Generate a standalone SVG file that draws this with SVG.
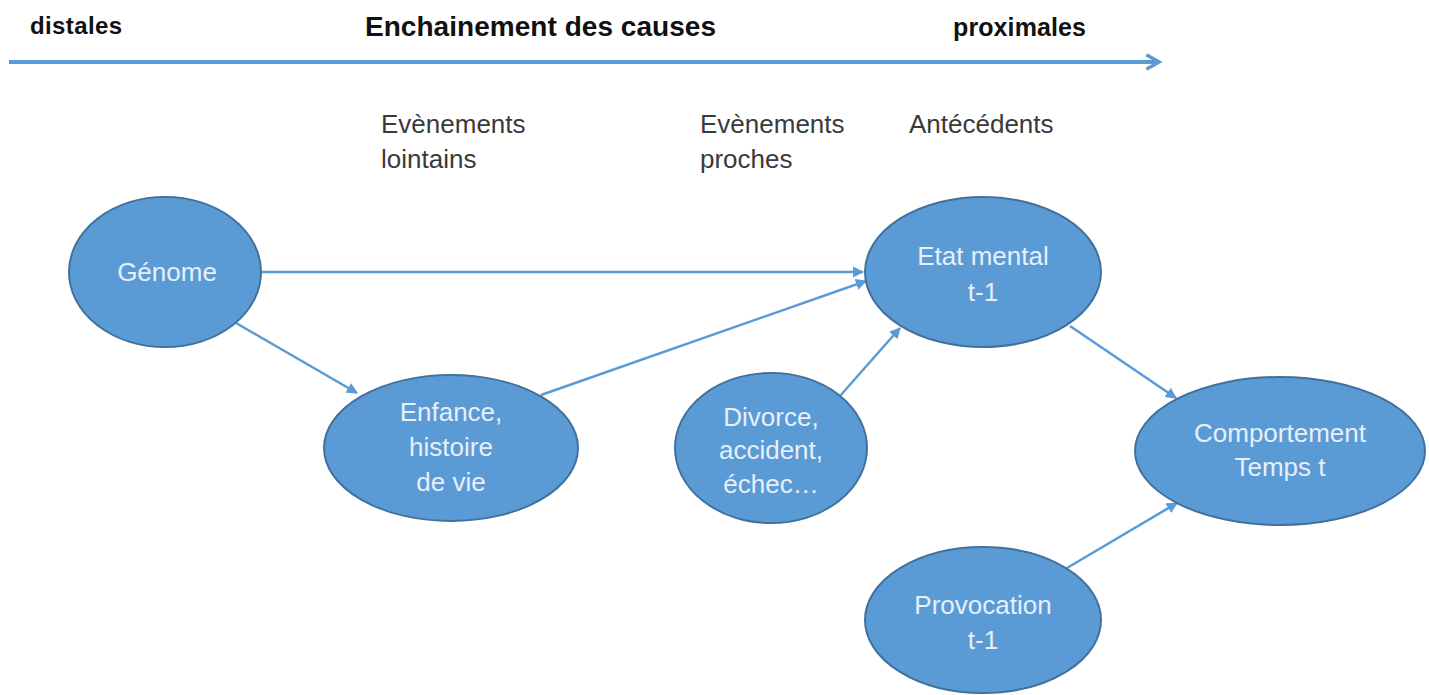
<svg xmlns="http://www.w3.org/2000/svg" width="1429" height="695" viewBox="0 0 1429 695">
<defs>
<style>
.node{fill:#5b9bd5;stroke:#41719c;stroke-width:2}
.nt{font-family:"Liberation Sans",Arial,sans-serif;font-size:26px;fill:#e6effa;text-anchor:middle}
.hd{font-family:"Liberation Sans",Arial,sans-serif;font-weight:bold;fill:#111}
.lb{font-family:"Liberation Sans",Arial,sans-serif;font-size:26px;fill:#3a3a3a}
.cn{stroke:#5b9bd5;stroke-width:2.5;fill:none;marker-end:url(#ah)}
</style>
<marker id="ah" viewBox="0 0 10 10" refX="9" refY="5" markerWidth="4.5" markerHeight="4.5" orient="auto" markerUnits="strokeWidth">
<path d="M0,0 L10,5 L0,10 z" fill="#5b9bd5"/>
</marker>
<marker id="chev" viewBox="0 0 10 10" refX="8" refY="5" markerWidth="4.5" markerHeight="4.5" orient="auto" markerUnits="strokeWidth">
<path d="M1,1 L8,5 L1,9" fill="none" stroke="#5b9bd5" stroke-width="2"/>
</marker>
</defs>
<rect width="1429" height="695" fill="#ffffff"/>
<g id="header">
<text class="hd" x="30" y="34" font-size="24" textLength="92">distales</text>
<text class="hd" x="365" y="36" font-size="28" textLength="351">Enchainement des causes</text>
<text class="hd" x="953" y="36" font-size="25" textLength="133">proximales</text>
<line x1="9" y1="62" x2="1159" y2="62" stroke="#5b9bd5" stroke-width="4" marker-end="url(#chev)"/>
</g>
<g id="labels">
<text class="lb" x="381" y="133">Evènements</text>
<text class="lb" x="381" y="168">lointains</text>
<text class="lb" x="700" y="133">Evènements</text>
<text class="lb" x="700" y="168">proches</text>
<text class="lb" x="909" y="133">Antécédents</text>
</g>
<g id="connectors">
<line class="cn" x1="261" y1="272" x2="863" y2="272"/>
<line class="cn" x1="236" y1="323" x2="357" y2="393"/>
<line class="cn" x1="541" y1="395" x2="866" y2="281"/>
<line class="cn" x1="840" y1="396" x2="900" y2="328"/>
<line class="cn" x1="1070" y1="326" x2="1176" y2="398"/>
<line class="cn" x1="1067" y1="568" x2="1177" y2="503"/>
</g>
<g id="genome">
<ellipse class="node" cx="165" cy="272" rx="96" ry="75"/>
<text class="nt" x="167" y="281">Génome</text>
</g>
<g id="enfance">
<ellipse class="node" cx="451" cy="448" rx="127" ry="73"/>
<text class="nt" x="451" y="421">Enfance,</text>
<text class="nt" x="451" y="456">histoire</text>
<text class="nt" x="451" y="491">de vie</text>
</g>
<g id="etat">
<ellipse class="node" cx="983" cy="272" rx="118" ry="75"/>
<text class="nt" x="983" y="265">Etat mental</text>
<text class="nt" x="983" y="301">t-1</text>
</g>
<g id="divorce">
<ellipse class="node" cx="771" cy="448" rx="96" ry="75"/>
<text class="nt" x="771" y="426">Divorce,</text>
<text class="nt" x="771" y="459">accident,</text>
<text class="nt" x="771" y="493">échec…</text>
</g>
<g id="comportement">
<ellipse class="node" cx="1280" cy="451" rx="145" ry="74"/>
<text class="nt" x="1280" y="442">Comportement</text>
<text class="nt" x="1280" y="476">Temps t</text>
</g>
<g id="provocation">
<ellipse class="node" cx="983" cy="620" rx="118" ry="73"/>
<text class="nt" x="983" y="614">Provocation</text>
<text class="nt" x="983" y="649">t-1</text>
</g>
</svg>
